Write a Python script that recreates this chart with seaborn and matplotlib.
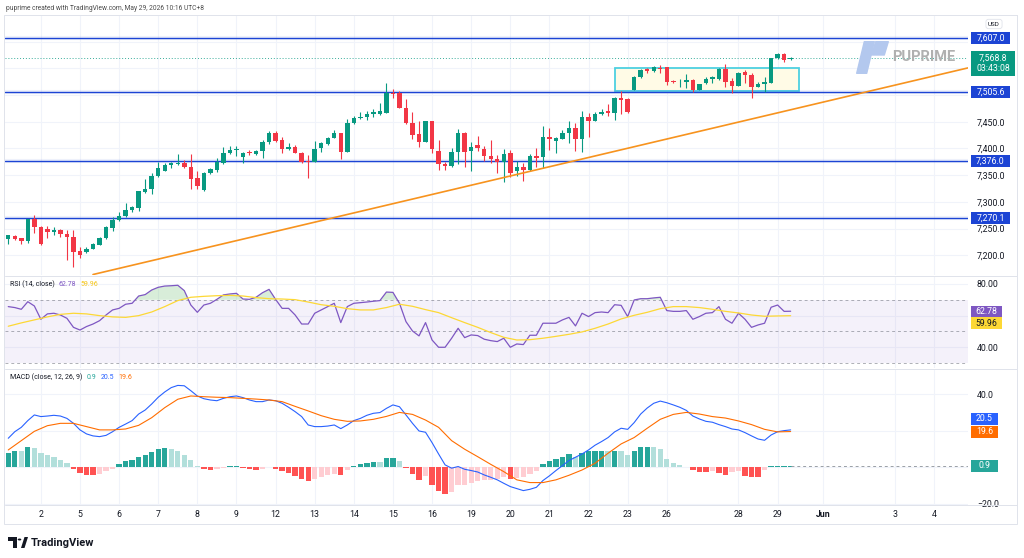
import numpy as np
import pandas as pd
import matplotlib
matplotlib.use("Agg")
import matplotlib.pyplot as plt
from matplotlib.patches import Rectangle, Polygon, Circle
from matplotlib.lines import Line2D
import seaborn as sns

# 4h candles (bar index 0..120)
opens = [7230.0, 7236.7, 7232.4, 7227.4, 7268.0, 7253.5, 7249.8, 7244.2, 7247.4, 7240.4,
         7233.7, 7208.6, 7205.6, 7212.4, 7219.9, 7231.8, 7251.1, 7266.1, 7273.0, 7284.8,
         7288.5, 7319.0, 7323.5, 7348.4, 7358.3, 7368.4, 7370.9, 7372.2, 7365.8, 7344.1,
         7322.2, 7353.4, 7359.6, 7372.2, 7392.0, 7396.5, 7384.5, 7392.7, 7390.1, 7395.9,
         7412.0, 7428.3, 7416.5, 7398.4, 7402.1, 7392.0, 7377.4, 7374.6, 7401.4, 7408.3,
         7420.1, 7428.3, 7393.9, 7447.0, 7456.0, 7459.4, 7464.4, 7465.3, 7467.2, 7504.3,
         7504.0, 7475.1, 7447.0, 7426.4, 7412.6, 7451.3, 7395.7, 7370.9, 7367.1, 7393.3,
         7428.3, 7395.9, 7405.8, 7399.5, 7385.8, 7379.7, 7375.2, 7391.4, 7358.3, 7364.7,
         7359.6, 7386.2, 7383.9, 7420.8, 7414.8, 7418.2, 7429.4, 7438.8, 7418.2, 7458.2,
         7451.9, 7464.4, 7469.1, 7466.3, 7493.4, 7491.9, 7509.3, 7532.7, 7548.0, 7545.2,
         7550.8, 7551.8, 7526.7, 7523.7, 7524.3, 7528.0, 7509.3, 7522.4, 7529.3, 7529.5,
         7548.0, 7526.1, 7517.2, 7543.5, 7537.7, 7515.5, 7520.2, 7523.0, 7569.2, 7576.7,
         7567.4]
highs = [7238.6, 7238.6, 7233.3, 7268.5, 7274.9, 7254.3, 7254.9, 7252.4, 7249.8, 7247.4,
         7247.4, 7215.0, 7216.1, 7223.0, 7234.3, 7254.9, 7271.1, 7281.0, 7298.5, 7291.7,
         7320.9, 7342.8, 7353.5, 7374.0, 7372.2, 7374.0, 7389.0, 7378.3, 7389.0, 7357.2,
         7355.9, 7363.4, 7382.1, 7402.7, 7404.5, 7404.5, 7393.3, 7397.1, 7397.1, 7415.8,
         7433.2, 7431.7, 7421.9, 7409.6, 7405.8, 7393.3, 7387.7, 7413.9, 7412.0, 7421.9,
         7434.5, 7428.9, 7454.5, 7460.7, 7467.6, 7470.0, 7473.2, 7485.0, 7521.8, 7511.2,
         7507.4, 7492.5, 7467.6, 7451.9, 7451.5, 7452.0, 7415.8, 7375.2, 7400.2, 7435.8,
         7431.3, 7412.6, 7423.8, 7405.1, 7415.8, 7387.7, 7398.4, 7397.1, 7377.0, 7372.2,
         7389.6, 7400.2, 7442.0, 7437.6, 7421.9, 7434.5, 7451.9, 7447.0, 7470.0, 7465.7,
         7468.2, 7473.8, 7483.1, 7496.8, 7506.5, 7494.3, 7535.5, 7549.5, 7550.5, 7554.8,
         7556.1, 7552.9, 7527.5, 7530.8, 7538.3, 7529.9, 7521.0, 7534.2, 7535.5, 7549.9,
         7558.0, 7531.2, 7542.5, 7546.7, 7540.5, 7524.3, 7533.1, 7570.0, 7578.0, 7578.0,
         7570.5]
lows = [7221.2, 7228.7, 7221.2, 7223.6, 7241.2, 7219.9, 7231.8, 7237.5, 7233.7, 7191.2,
        7178.1, 7195.0, 7203.8, 7211.8, 7218.7, 7230.0, 7245.5, 7264.8, 7271.1, 7281.6,
        7282.9, 7316.0, 7314.7, 7347.1, 7357.8, 7362.8, 7369.5, 7363.9, 7324.1, 7323.5,
        7320.3, 7352.1, 7355.9, 7370.9, 7389.6, 7385.8, 7372.2, 7387.7, 7387.7, 7382.6,
        7408.0, 7412.0, 7392.0, 7397.1, 7390.9, 7372.8, 7344.1, 7374.0, 7393.3, 7406.4,
        7419.0, 7381.1, 7393.3, 7445.7, 7454.5, 7452.6, 7458.8, 7462.5, 7466.0, 7493.8,
        7475.0, 7446.5, 7417.1, 7402.1, 7411.5, 7390.9, 7359.6, 7359.6, 7364.7, 7370.9,
        7365.8, 7358.3, 7395.9, 7377.0, 7372.2, 7353.5, 7338.1, 7347.1, 7348.4, 7339.6,
        7358.3, 7364.7, 7362.8, 7397.1, 7392.0, 7417.1, 7410.7, 7394.8, 7393.3, 7421.9,
        7450.4, 7462.5, 7460.7, 7454.1, 7463.5, 7466.3, 7509.0, 7531.8, 7541.1, 7543.9,
        7541.1, 7518.7, 7522.5, 7515.0, 7512.5, 7505.6, 7508.5, 7519.6, 7522.4, 7527.1,
        7514.4, 7504.6, 7516.0, 7521.9, 7494.9, 7514.9, 7505.6, 7522.0, 7567.9, 7562.3,
        7565.4]
closes = [7237.5, 7230.5, 7227.4, 7267.4, 7253.5, 7221.2, 7243.6, 7247.4, 7239.9, 7233.7,
          7206.2, 7201.2, 7212.4, 7220.6, 7233.0, 7252.4, 7266.1, 7273.6, 7284.8, 7289.8,
          7319.8, 7324.1, 7349.0, 7363.9, 7369.5, 7372.2, 7373.0, 7365.8, 7342.8, 7330.3,
          7354.6, 7360.9, 7374.6, 7390.9, 7397.1, 7398.9, 7390.9, 7391.4, 7395.2, 7412.6,
          7428.9, 7414.5, 7398.9, 7402.7, 7392.0, 7374.6, 7375.2, 7399.5, 7409.6, 7420.1,
          7428.3, 7393.7, 7447.0, 7456.4, 7459.4, 7464.4, 7467.2, 7470.0, 7504.3, 7501.8,
          7475.6, 7447.0, 7425.7, 7412.6, 7451.3, 7398.5, 7370.5, 7367.1, 7393.3, 7428.3,
          7393.3, 7403.2, 7399.9, 7385.3, 7380.2, 7375.2, 7389.6, 7354.0, 7364.7, 7360.2,
          7386.2, 7382.6, 7420.8, 7417.6, 7418.9, 7429.4, 7438.8, 7418.2, 7458.2, 7450.7,
          7464.4, 7468.7, 7466.7, 7493.8, 7491.5, 7468.1, 7533.1, 7547.3, 7545.4, 7552.9,
          7547.7, 7524.8, 7523.9, 7524.9, 7528.9, 7510.2, 7520.5, 7529.9, 7532.7, 7548.0,
          7524.8, 7517.2, 7541.7, 7537.7, 7515.5, 7520.5, 7524.8, 7569.2, 7576.7, 7565.4,
          7568.8]

# RSI(14) and its moving average (MA read every second bar)
rsi = [65.7, 65.1, 64.0, 68.8, 66.1, 57.7, 61.1, 61.5, 60.4, 58.3,
       52.6, 50.9, 53.1, 54.7, 56.8, 60.4, 63.6, 64.6, 67.2, 67.8,
       72.4, 73.3, 76.2, 77.9, 78.7, 78.9, 79.2, 75.8, 66.7, 62.1,
       66.7, 67.8, 70.3, 73.1, 73.7, 74.1, 70.5, 70.3, 71.6, 74.5,
       76.6, 70.3, 64.6, 64.6, 60.4, 54.7, 54.7, 61.5, 63.6, 65.7,
       67.8, 55.6, 65.7, 67.8, 68.2, 68.6, 69.1, 69.5, 74.9, 74.7,
       67.8, 56.2, 50.3, 47.2, 55.6, 44.6, 40.0, 40.0, 45.7, 52.0,
       46.1, 47.8, 47.4, 45.1, 44.2, 43.6, 45.7, 40.0, 42.1, 41.7,
       47.6, 47.6, 55.2, 55.2, 55.2, 57.3, 58.9, 53.5, 61.5, 59.4,
       61.9, 62.3, 61.9, 66.9, 66.5, 59.4, 69.9, 70.7, 70.7, 71.2,
       71.6, 63.2, 62.7, 62.7, 63.2, 57.7, 59.4, 61.5, 61.9, 65.7,
       57.7, 55.2, 61.5, 57.7, 52.6, 54.1, 55.2, 65.3, 66.7, 62.7,
       62.78]
rsi_ma = [53.3, 55.4, 57.3, 59.2, 60.8, 61.5, 61.1, 60.0, 59.2, 58.9,
          60.0, 62.3, 65.7, 69.5, 71.6, 72.2, 72.6, 72.8, 72.4, 71.4,
          70.7, 70.5, 70.1, 68.6, 66.9, 65.9, 64.4, 63.6, 63.6, 65.1,
          67.2, 65.9, 63.8, 61.9, 58.7, 55.6, 52.6, 49.3, 46.3, 44.6,
          44.8, 45.7, 46.9, 48.2, 49.7, 52.0, 54.7, 57.9, 60.2, 62.1,
          64.4, 65.7, 65.7, 65.1, 64.0, 62.7, 61.7, 60.4, 59.6, 59.8,
          59.96]

# MACD(12, 26, 9)
macd = [15.9, 19.5, 21.9, 25.6, 28.7, 27.8, 28.1, 28.5, 28.1, 26.8,
        24.1, 20.5, 18.3, 17.2, 16.8, 17.5, 19.5, 21.9, 23.7, 25.6,
        29.2, 31.4, 34.7, 38.4, 41.3, 43.7, 44.9, 44.7, 42.0, 39.1,
        37.6, 36.9, 36.5, 37.8, 38.7, 39.1, 38.2, 36.9, 36.0, 36.0,
        36.9, 36.5, 35.1, 32.9, 30.5, 27.8, 23.2, 22.3, 22.3, 22.6,
        23.2, 21.2, 23.2, 25.6, 26.8, 28.5, 29.6, 30.0, 32.3, 34.2,
        33.2, 28.7, 24.1, 19.9, 19.2, 13.5, 7.3, 1.3, -0.5, 0.4,
        -1.1, -1.8, -2.6, -4.2, -5.5, -6.9, -8.8, -10.6, -11.7, -12.8,
        -12.1, -11.0, -7.3, -4.7, -1.8, 0.9, 3.7, 5.5, 7.3, 9.5,
        12.1, 14.1, 16.3, 19.4, 21.4, 20.8, 24.5, 29.2, 32.5, 35.1,
        36.3, 35.4, 34.2, 32.9, 31.2, 28.1, 26.5, 25.2, 24.7, 23.4,
        22.3, 21.0, 20.5, 19.0, 17.2, 15.5, 14.8, 17.7, 19.5, 20.1,
        20.5]
signal = [9.5, 14.6, 19.7, 22.8, 24.1, 24.1, 22.3, 20.5, 20.5, 21.0,
          23.0, 27.2, 32.7, 37.3, 39.1, 38.7, 38.4, 38.2, 37.8, 37.4,
          36.9, 36.0, 33.4, 30.9, 28.3, 26.3, 25.2, 25.4, 26.3, 27.9,
          30.1, 29.0, 25.9, 21.9, 14.6, 9.9, 5.8, 1.6, -2.4, -6.9,
          -8.4, -8.4, -6.9, -4.4, -1.5, 2.2, 7.7, 12.8, 16.3, 21.4,
          26.3, 29.0, 30.1, 29.2, 27.8, 27.0, 25.4, 23.4, 20.8, 19.4,
          19.6]
hist = [8.0, 9.1, 9.0, 11.0, 10.4, 7.7, 6.8, 5.5, 4.0, 2.2,
        -1.1, -3.3, -4.2, -4.3, -3.7, -1.8, -0.7, 1.8, 3.3, 4.0,
        5.5, 6.8, 8.6, 10.0, 10.4, 9.9, 8.9, 6.8, 4.0, 0.7,
        -0.9, -1.5, -1.1, -0.2, 0.7, 0.8, -0.4, -0.9, -1.5, -0.7,
        -0.1, -0.9, -2.2, -3.3, -4.7, -6.6, -7.7, -6.6, -5.5, -4.2,
        -3.7, -4.0, -1.5, 0.7, 1.8, 2.6, 2.9, 2.8, 4.9, 5.1,
        3.5, -0.5, -3.8, -6.9, -4.7, -9.7, -12.8, -14.6, -13.3, -9.7,
        -9.6, -8.4, -7.3, -7.2, -6.9, -6.6, -5.1, -6.6, -6.0, -5.5,
        -3.8, -2.0, 1.6, 3.7, 4.7, 5.8, 7.1, 5.5, 8.0, 8.8,
        8.9, 9.0, 8.8, 8.9, 8.8, 6.8, 8.8, 11.0, 11.1, 11.0,
        9.9, 4.4, 2.2, 1.1, 0.4, -1.5, -2.4, -2.6, -1.8, -2.9,
        -4.0, -2.6, -2.2, -4.7, -5.1, -5.2, -1.5, 0.5, 0.8, 0.85,
        0.9]

# drawings
levels = [7607.0, 7505.6, 7376.0, 7270.1]
trend_x = [13, 120]
trend_y = [7164.1, 7472.3]
range_x = [93.05, 121.3]
range_y = [7508.0, 7551.0]
countdown = "03:43:08"

day_ticks = [5, 11, 17, 23, 29, 35, 41, 47, 53, 59, 65, 71, 77, 83, 89, 95, 101, 112, 118, 125, 136, 142]
day_labels = ['2', '5', '6', '7', '8', '9', '12', '13', '14', '15', '16', '19', '20', '21', '22',
              '23', '26', '28', '29', 'Jun', '3', '4']

sns.set_theme(style="white")
plt.rcParams['font.family'] = ['Roboto', 'DejaVu Sans']

W, H = 1024, 558
TXT = '#131722'
GRID = '#f0f3fa'
BLUE = '#1c44d4'
UP, DOWN = '#089981', '#F23645'
FS = 6.3

fig = plt.figure(figsize=(W / 100, H / 100), dpi=100)
fig.patch.set_facecolor('white')


def px_box(x0, y0, x1, y1):
    return [x0 / W, 1 - y1 / H, (x1 - x0) / W, (y1 - y0) / H]


def px(x, y):
    return (x / W, 1 - y / H)


ax_p = fig.add_axes(px_box(5, 15, 968, 275))
ax_r = fig.add_axes(px_box(5, 276, 968, 368), sharex=ax_p)
ax_m = fig.add_axes(px_box(5, 369, 968, 505), sharex=ax_p)

x = np.arange(len(closes))
o, h, l, c = map(np.array, (opens, highs, lows, closes))
XMAX = 147.2

# ---- price pane ----
ax_p.add_patch(Rectangle((range_x[0], range_y[0]), range_x[1] - range_x[0], range_y[1] - range_y[0],
                         fc='#fffbe6', ec='#4dd0e1', lw=1.3, zorder=1))
candle_col = np.where(c >= o, UP, DOWN)
ax_p.vlines(x, l, h, colors=candle_col, lw=0.8, zorder=3)
ax_p.bar(x, np.maximum(np.abs(c - o), 1.0), bottom=np.minimum(o, c), width=0.68,
         color=candle_col, linewidth=0, zorder=4)
for lv in levels:
    ax_p.axhline(lv, color=BLUE, lw=3, alpha=0.07, zorder=2)
    ax_p.axhline(lv, color=BLUE, lw=1.0, zorder=2)
slope = (trend_y[1] - trend_y[0]) / (trend_x[1] - trend_x[0])
ax_p.plot([trend_x[0], XMAX], [trend_y[0], trend_y[0] + slope * (XMAX - trend_x[0])],
          color='#F7931E', lw=1.2, zorder=5)
ax_p.axhline(closes[-1], color=UP, ls=(0, (1, 2)), lw=0.7, alpha=0.8, zorder=2)

# ---- RSI pane ----
ax_r.axhspan(30, 70, color='#7E57C2', alpha=0.08, lw=0)
for lv in (70, 50, 30):
    ax_r.axhline(lv, color='#787B86', ls=(0, (3, 3)), lw=0.7, alpha=0.6)
rsi_arr = np.array(rsi)
ax_r.fill_between(x, 70, rsi_arr, where=rsi_arr > 70, interpolate=True, color='#66BB6A', alpha=0.25, lw=0)
sns.lineplot(data=pd.DataFrame({'bar': x, 'rsi': rsi}), x='bar', y='rsi', ax=ax_r, color='#7E57C2', lw=0.9)
sns.lineplot(data=pd.DataFrame({'bar': np.arange(0, len(closes), 2), 'ma': rsi_ma}), x='bar', y='ma',
             ax=ax_r, color='#FDD835', lw=0.9)

# ---- MACD pane ----
hist_arr = np.array(hist)
prev = np.concatenate([[hist_arr[0] - 1], hist_arr[:-1]])
rising = hist_arr > prev
hist_col = np.where(hist_arr >= 0, np.where(rising, '#26A69A', '#B2DFDB'),
                    np.where(rising, '#FFCDD2', '#FF5252'))
ax_m.bar(x, hist_arr, width=0.82, color=hist_col, linewidth=0, zorder=2)
ax_m.hlines(hist_arr[-1], x[-1], XMAX, colors='#9aa0a6', ls=(0, (3, 3)), lw=0.7)
sns.lineplot(data=pd.DataFrame({'bar': x, 'macd': macd}), x='bar', y='macd', ax=ax_m, color='#2962FF', lw=0.8)
sns.lineplot(data=pd.DataFrame({'bar': np.arange(0, len(closes), 2), 'sig': signal}), x='bar', y='sig',
             ax=ax_m, color='#FF6D00', lw=0.8)

# ---- axes styling ----
for ax in (ax_p, ax_r, ax_m):
    for s in ax.spines.values():
        s.set_visible(False)
    ax.yaxis.tick_right()
    ax.grid(True, color=GRID, lw=0.8)
    ax.set_axisbelow(True)
    ax.tick_params(axis='both', length=0, labelsize=FS, labelcolor=TXT, pad=6.3)
    ax.set_xlabel('')
    ax.set_ylabel('')

ax_m.set_xticks(day_ticks)
ax_m.set_xticklabels(day_labels)
for lbl in ax_m.get_xticklabels():
    if lbl.get_text() == 'Jun':
        lbl.set_fontweight('bold')
ax_m.tick_params(axis='x', pad=3.5)
ax_p.tick_params(axis='x', labelbottom=False)
ax_r.tick_params(axis='x', labelbottom=False)
ax_p.set_xlim(-0.5, XMAX)

price_ticks = list(range(7200, 7601, 50))
ax_p.set_yticks(price_ticks)
ax_p.set_yticklabels([f'{v:,.1f}' if v <= 7450 else '' for v in price_ticks])
ax_p.set_ylim(7163.2, 7649.6)

ax_r.set_yticks([40, 60, 80])
ax_r.set_yticklabels(['40.00', '', '80.00'])
ax_r.set_ylim(26.9, 85.05)

ax_m.set_yticks([-20, 0, 20, 40])
ax_m.set_yticklabels(['\u221220.0', '', '', '40.0'])
ax_m.set_ylim(-20.7, 53.9)


def tag(ax, yval, label, fc, w_px, h_px=11.5, tc='white', shift_px=0.0):
    y0, y1 = ax.get_ylim()
    upp = (y1 - y0) / (ax.get_position().height * H)
    yc = yval + shift_px * upp
    ax_w = ax.get_position().width * W
    left = 1 + 3 / ax_w
    tr = ax.get_yaxis_transform()
    ax.add_patch(Rectangle((left, yc - h_px / 2 * upp), w_px / ax_w, h_px * upp, transform=tr,
                           fc=fc, ec='none', clip_on=False, zorder=20))
    ax.text(left + w_px / 2 / ax_w, yc, label, transform=tr, ha='center', va='center',
            fontsize=FS, color=tc, zorder=21, clip_on=False, linespacing=1.25)


for lv in levels:
    tag(ax_p, lv, f'{lv:,.1f}', BLUE, 39)
tag(ax_p, closes[-1], f'{closes[-1]:,.1f}\n{countdown}', UP, 44, h_px=25, shift_px=-5.3)
tag(ax_r, rsi[-1], f'{rsi[-1]:.2f}', '#7E57C2', 31, h_px=11)
tag(ax_r, rsi_ma[-1], f'{rsi_ma[-1]:.2f}', '#FDD835', 31, h_px=12, tc=TXT, shift_px=-7.8)
tag(ax_m, macd[-1], f'{macd[-1]:.1f}', '#2962FF', 27, h_px=12, shift_px=10.9)
tag(ax_m, signal[-1], f'{signal[-1]:.1f}', '#FF6D00', 27, h_px=12)
tag(ax_m, hist[-1], f'{hist[-1]:.1f}', '#26A69A', 27, h_px=12)

# ---- pane legends ----
t = ax_r.text(5 / 963, (368 - 284) / 92, 'RSI (14, close)', transform=ax_r.transAxes,
              fontsize=5, color=TXT, va='center')
t = ax_r.annotate(f'{rsi[-1]:.2f}', xy=(1, 0.5), xycoords=t, xytext=(3, 0), textcoords='offset points',
                  va='center', fontsize=5, color='#7E57C2')
ax_r.annotate(f'{rsi_ma[-1]:.2f}', xy=(1, 0.5), xycoords=t, xytext=(3, 0), textcoords='offset points',
              va='center', fontsize=5, color='#F5C518')

t = ax_m.text(5 / 963, (505 - 377) / 136, 'MACD (close, 12, 26, 9)', transform=ax_m.transAxes,
              fontsize=5, color=TXT, va='center')
for val, col in ((hist[-1], '#26A69A'), (macd[-1], '#2962FF'), (signal[-1], '#FF6D00')):
    t = ax_m.annotate(f'{val:.1f}', xy=(1, 0.5), xycoords=t, xytext=(3, 0), textcoords='offset points',
                      va='center', fontsize=5, color=col)

# ---- frame, header, watermark ----
for yy in (15, 275.5, 368.5, 505):
    fig.add_artist(Line2D([5 / W, 1017 / W], [1 - yy / H, 1 - yy / H], transform=fig.transFigure,
                          color='#e0e3eb', lw=0.7))
fig.add_artist(Rectangle(px(4, 524), 1013 / W, 509 / H, transform=fig.transFigure,
                         fc='none', ec='#e0e3eb', lw=0.7))
fig.text(6 / W, 1 - 8 / H, 'puprime created with TradingView.com, May 29, 2026 10:16 UTC+8',
         fontsize=4.8, color='#4a4a4a', va='center')
fig.text(*px(994, 24), 'USD', fontsize=4.5, color=TXT, ha='center', va='center',
         bbox=dict(boxstyle='round,pad=0.35,rounding_size=0.4', fc='white', ec='#e0e3eb', lw=0.6))

fig.add_artist(Polygon([px(856.7, 73.3), px(866.7, 73.3), px(874.3, 41.7), px(864.3, 41.7)], closed=True,
                       transform=fig.transFigure, fc='#b3c8ee', ec='#b3c8ee', lw=1.0, joinstyle='round'))
fig.add_artist(Polygon([px(875.7, 41.7), px(888.3, 41.7), px(884.3, 55), px(871.5, 55)], closed=True,
                       transform=fig.transFigure, fc='#b3c8ee', ec='#b3c8ee', lw=1.0, joinstyle='round'))
fig.text(*px(892, 57), 'PUPRIME', fontsize=10.5, fontweight='bold', color='#b0b0b0',
         ha='left', va='center')

# TradingView logo
fig.add_artist(Polygon([px(8, 537), px(17, 537), px(17, 548), px(13, 548), px(13, 541), px(8, 541)],
                       closed=True, transform=fig.transFigure, fc=TXT, ec='none'))
fig.add_artist(Circle(px(19.5, 539.5), 1.8 / W, transform=fig.transFigure, fc=TXT, ec='none'))
fig.add_artist(Polygon([px(21, 548), px(24.5, 537), px(28, 537), px(24.5, 548)], closed=True,
                       transform=fig.transFigure, fc=TXT, ec='none'))
fig.text(*px(31, 542.5), 'TradingView', fontsize=8, fontweight='bold', color=TXT, va='center')

fig.savefig('out.png', dpi=100, facecolor='white')
